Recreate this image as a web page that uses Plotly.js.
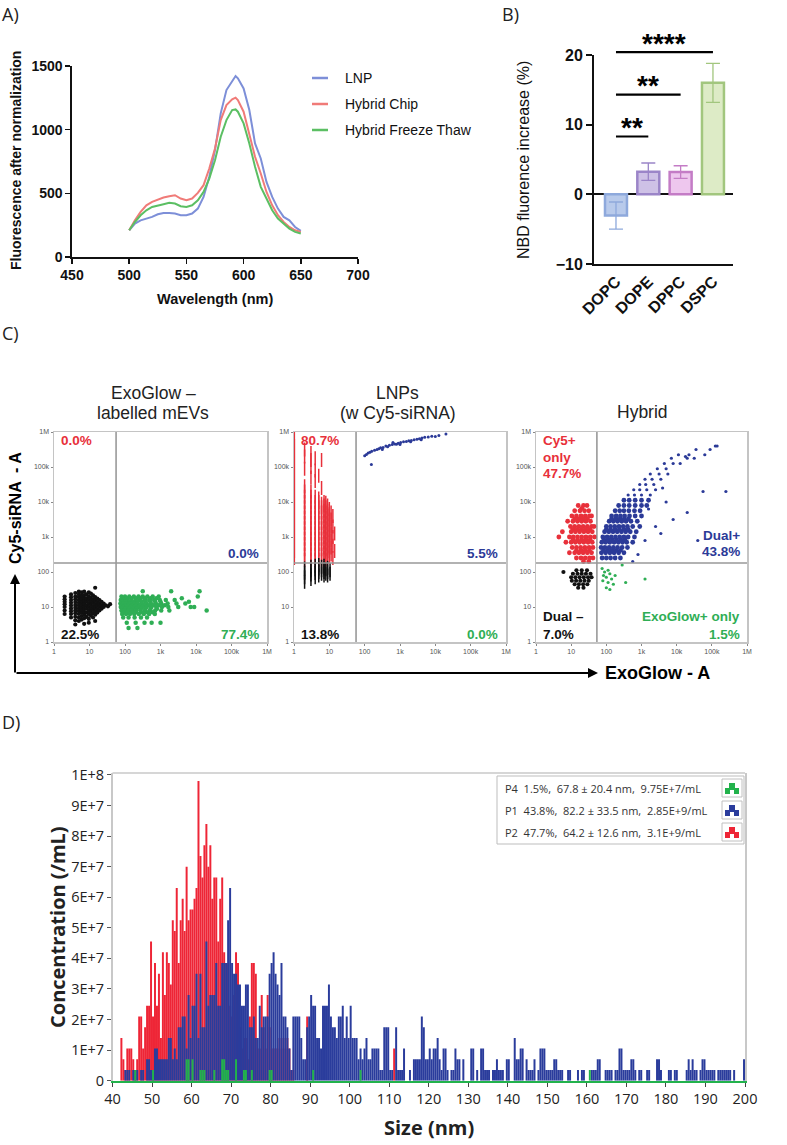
<!DOCTYPE html>
<html><head><meta charset="utf-8">
<script src="https://cdn.plot.ly/plotly-3.0.1.min.js"></script>
<style>html,body{margin:0;padding:0;background:#fff}#chart{width:787px;height:1145px}</style>
</head><body><div id="chart"></div>
<script>
// ---------------- DATA ----------------
// Panel A: emission spectra
const wavelength = [500,505,510,515,520,525,530,535,540,545,550,555,560,565,570,575,580,585,590,593,595,600,605,610,615,620,625,630,635,640,645,650];
const lnpFluo = [210,262,288,302,315,336,346,346,341,328,328,341,380,472,630,840,1128,1311,1377,1421,1403,1324,1154,892,774,590,472,380,315,288,236,205];
const chipFluo = [210,288,354,406,433,451,467,477,485,459,446,459,503,564,695,852,1075,1193,1238,1251,1233,1141,970,787,656,511,406,328,275,236,210,197];
const freezeFluo = [210,275,328,367,393,406,414,425,420,399,393,406,446,511,616,760,944,1075,1154,1159,1141,1049,892,708,551,459,367,302,262,223,197,184];
const spectraNames = ['LNP','Hybrid Chip','Hybrid Freeze Thaw'];
const spectraColors = ['#7d8fd8','#f07b78','#5bbf63'];
const waveTicks = [450,500,550,600,650,700];
const fluoTicks = [0,500,1000,1500];

// Panel B: NBD fluorescence increase
const lipids = ['DOPC','DOPE','DPPC','DSPC'];
const nbdMean = [-3.05, 3.25, 3.2, 16.0];
const nbdSD = [1.95, 1.25, 0.9, 2.8];
const lipidFill = ['rgba(160,184,228,0.75)','rgba(190,172,222,0.75)','rgba(232,180,232,0.75)','rgba(212,230,184,0.8)'];
const lipidEdge = ['#8ea9dc','#9b85c8','#c47cc6','#a2c67e'];
const sigFrom = [0,0,0];
const sigTo = [1,2,3];
const sigY = [8.3,14.3,20.4];
const sigText = ['**','**','****'];
const nbdTicks = [-10,0,10,20];

// Panel C: flow cytometry (log10 ExoGlow-A, log10 Cy5-siRNA-A)
const flowTicks = [1,10,100,1e3,1e4,1e5,1e6];
const flowTickText = ['1','10','100','1k','10k','100k','1M'];
const gateX = [56,57,54];
const gateY = 180;
// columns: [log x, [log y ...]]
const exoBlackCols = [[0.30,[0.80,0.90,1.00,1.08,1.15,1.22,1.30]],[0.48,[0.70,0.80,0.88,0.96,1.04,1.12,1.20,1.28,1.36]],
 [0.60,[0.50,0.62,0.72,0.82,0.90,0.98,1.06,1.14,1.22,1.30,1.40]],[0.70,[0.60,0.70,0.80,0.88,0.96,1.04,1.12,1.20,1.28,1.36,1.44]],
 [0.78,[0.64,0.74,0.84,0.92,1.00,1.08,1.16,1.24,1.32,1.42]],[0.85,[0.52,0.68,0.78,0.86,0.94,1.02,1.10,1.18,1.26,1.34,1.44]],
 [0.92,[0.72,0.84,0.95,1.05,1.15,1.25,1.36]],[0.98,[0.55,0.66,0.80,0.90,1.00,1.10,1.20,1.30,1.42]],
 [1.04,[0.75,0.86,0.96,1.06,1.16,1.26,1.38]],[1.10,[0.70,0.82,0.92,1.02,1.12,1.22,1.33]],
 [1.16,[0.60,0.78,0.88,0.98,1.08,1.18,1.28,1.55]],[1.22,[0.84,0.94,1.04,1.14,1.24]],[1.28,[0.90,1.00,1.10,1.20]],
 [1.34,[0.95,1.05,1.15]],[1.40,[1.00,1.10]],[1.46,[1.05]],[1.52,[1.02]],[1.58,[1.08]]];
// rows: [log y, [log x ...]]
const exoGreenRows = [[1.45,[2.50,3.30,4.10]],[1.30,[1.90,2.00,2.12,2.25,2.38,2.50,2.63,2.78,2.95,4.05]],[1.25,[1.93,2.05,2.18,2.31,2.44,2.57,2.72,2.88,3.60]],
 [1.20,[1.88,1.97,2.07,2.18,2.30,2.42,2.55,2.68,2.82,2.98,3.15,3.40]],[1.15,[1.91,2.01,2.12,2.23,2.34,2.46,2.58,2.71,2.85,3.00,3.80]],
 [1.10,[1.87,1.95,2.04,2.14,2.25,2.36,2.48,2.60,2.73,2.87,3.02,3.20,3.45,3.70]],[1.05,[1.91,2.00,2.10,2.20,2.31,2.42,2.54,2.67,2.80,2.95,3.12]],
 [1.00,[1.88,1.96,2.05,2.15,2.26,2.37,2.49,2.61,2.74,2.88,3.04,3.22,3.50,3.85,3.95]],[0.95,[1.92,2.01,2.11,2.22,2.33,2.45,2.58,2.72,2.90]],
 [0.90,[1.90,1.99,2.09,2.20,2.31,2.43,2.56,2.70,2.85,3.02,3.25,4.30]],[0.85,[1.94,2.06,2.18,2.31,2.46,2.62,2.78]],
 [0.80,[1.92,2.03,2.14,2.26,2.39,2.53,2.68,2.84]],[0.70,[1.95,2.10,2.27,2.45,2.62]],[0.55,[2.05,2.30,2.55,2.75,3.00]],[0.40,[2.10,2.35]]];
const lnpRedCols = [[0.01,[2.4,2.6,2.8,3.0,3.2,3.4,3.6,3.8,4.0,4.2,4.4,4.6,4.8,5.0,5.2,5.4,5.6,5.8]],
 [0.30,[2.35,2.5,2.65,2.8,2.95,3.1,3.25,3.4,3.55,3.7,3.85,4.0,4.15,4.3,4.45,4.95,5.3,5.5]],
 [0.48,[2.35,2.5,2.65,2.8,2.95,3.1,3.25,3.4,3.55,3.7,3.85,4.0,4.15,4.3,4.7,5.0,5.2,5.4]],
 [0.60,[2.35,2.5,2.65,2.8,2.95,3.1,3.25,3.4,3.55,3.7,3.85,4.0,4.15,4.6,4.9,5.25]],
 [0.70,[2.35,2.5,2.65,2.8,2.95,3.1,3.25,3.4,3.55,3.7,3.85,4.0,4.1,4.75]],
 [0.78,[2.35,2.5,2.65,2.8,2.95,3.1,3.25,3.4,3.55,3.7,3.85,3.95,4.4,5.2]],
 [0.85,[2.4,2.55,2.7,2.85,3.0,3.15,3.3,3.45,3.6,3.75,3.9,4.0]],
 [0.90,[2.35,2.5,2.65,2.8,2.95,3.1,3.25,3.4,3.55,3.7,3.85,3.98]],
 [0.95,[2.4,2.55,2.7,2.85,3.0,3.15,3.3,3.45,3.6,3.75,3.9]],
 [1.00,[2.45,2.6,2.75,2.9,3.05,3.2,3.35,3.5,3.65,3.8]],
 [1.05,[2.5,2.7,2.9,3.1,3.3,3.5,3.7]],[1.10,[2.4,2.75,3.0,3.3,3.6]],[1.15,[2.6,3.1]]];
const lnpBlackCols = [[0.30,[1.72,1.85,1.98,2.10]],[0.48,[1.80,1.93,2.05,2.15]],[0.60,[1.85,1.97,2.08,2.18]],[0.70,[1.90,2.00,2.10,2.20]],
 [0.78,[1.95,2.05,2.15]],[0.85,[1.90,2.00,2.10,2.18]],[0.90,[1.95,2.08]],[0.95,[1.90,2.00,2.12]],[1.02,[1.95,2.05]]];
const lnpBluePts = [[2.00,5.32],[2.05,5.36],[2.10,5.40],[2.15,5.42],[2.20,5.45],[2.28,5.48],[2.35,5.50],[2.40,5.52],[2.45,5.55],[2.50,5.50],
 [2.52,5.56],[2.60,5.60],[2.65,5.58],[2.70,5.62],[2.78,5.64],[2.80,5.70],[2.85,5.66],[2.90,5.65],[2.95,5.68],[3.00,5.64],[3.02,5.70],
 [3.10,5.72],[3.18,5.73],[3.25,5.75],[3.30,5.72],[3.32,5.76],[3.40,5.78],[3.48,5.79],[3.55,5.81],[3.60,5.78],[3.62,5.83],[3.70,5.85],
 [3.80,5.86],[3.90,5.88],[4.00,5.87],[4.10,5.90],[4.30,5.94],[2.19,5.07]];
const hybRedRows = [[3.90,[1.20,1.35,1.45]],[3.82,[1.30]],[3.75,[1.10,1.25,1.38,1.50]],[3.60,[1.02,1.15,1.28,1.40,1.52,1.58]],
 [3.52,[1.10,1.22,1.34,1.46]],[3.45,[0.90,1.05,1.18,1.30,1.42,1.55]],[3.30,[0.98,1.10,1.22,1.34,1.46,1.58,1.65]],
 [3.22,[1.05,1.17,1.29,1.41,1.53]],[3.15,[0.75,1.00,1.12,1.24,1.36,1.48,1.60]],[3.00,[0.65,0.95,1.06,1.18,1.30,1.42,1.54,1.66]],
 [2.92,[1.05,1.18,1.30,1.42,1.54]],[2.85,[0.85,1.00,1.12,1.24,1.36,1.48,1.60]],[2.70,[1.03,1.15,1.27,1.39,1.51,1.62]],
 [2.62,[1.15,1.28,1.40,1.52]],[2.55,[0.95,1.10,1.22,1.34,1.46,1.58]],[2.40,[1.15,1.28,1.40,1.52,1.62]],[2.30,[1.35,1.50]]];
const hybBlueCoreRows = [[2.40,[1.88,2.00,2.12,2.25,2.40]],[2.55,[1.86,1.98,2.10,2.22,2.35,2.50]],[2.62,[1.92,2.04,2.16,2.28,2.40]],
 [2.70,[1.85,1.96,2.08,2.20,2.32,2.45,2.60]],[2.85,[1.87,1.98,2.10,2.22,2.34,2.46,2.58,2.75]],
 [2.92,[1.93,2.05,2.17,2.29,2.41,2.53]],[3.00,[1.90,2.02,2.14,2.26,2.38,2.50,2.62,2.80]],
 [3.15,[1.95,2.07,2.19,2.31,2.43,2.55,2.68,2.85]],[3.22,[2.00,2.12,2.25,2.37,2.50,2.62]],[3.30,[2.00,2.12,2.24,2.36,2.48,2.60,2.75,2.95]],
 [3.45,[2.08,2.20,2.32,2.44,2.56,2.70,2.88]],[3.52,[2.15,2.27,2.39,2.51,2.63]],[3.60,[2.15,2.28,2.40,2.52,2.66,2.82,3.00]],
 [3.75,[2.25,2.38,2.50,2.64,2.80,2.96]],[3.90,[2.35,2.50,2.65,2.82,3.00,3.15]],[4.05,[2.50,2.65,2.82,3.00,3.20]]];
const hybBlueTailRows = [[2.30,[2.75]],[2.50,[2.90]],[2.90,[3.10,4.60]],[3.10,[3.55]],[3.30,[3.40]],[3.50,[3.90]],[3.70,[4.30]],[3.80,[3.20]],[4.00,[3.70]],
 [4.20,[2.62,2.80,3.00,3.25]],[4.30,[4.75,5.40]],[4.35,[2.78,2.95,3.15,3.40]],[4.40,[3.60]],
 [4.50,[2.95,3.12,3.35]],[4.65,[3.10,3.30,3.55]],[4.80,[3.25,3.50,3.75]],[4.95,[3.45,3.70]],[5.10,[3.65,3.90,4.10]],
 [5.25,[3.85,4.30,4.50]],[5.30,[4.25]],[5.35,[4.05,4.35,4.80]],[5.50,[4.55,4.95]],[5.60,[5.10,5.15]]];
const hybBlackRows = [[2.05,[1.15,1.30,1.45]],[2.00,[0.78]],[1.95,[1.05,1.18,1.30,1.42,1.55]],[1.85,[1.00,1.12,1.24,1.36,1.48,1.58]],
 [1.75,[1.02,1.14,1.26,1.38,1.50]],[1.65,[1.10,1.22,1.34,1.46]],[1.55,[1.20,1.35]]];
const hybGreenPts = [[1.88,2.10],[1.95,2.00],[2.05,2.05],[1.92,1.90],[2.00,1.85],[2.10,1.95],[2.15,1.80],[1.90,1.75],[2.05,1.70],
 [2.20,1.65],[2.00,1.55],[2.10,1.50],[2.25,1.90],[2.55,1.70],[3.10,1.80],[2.45,2.20]];

// Panel D: NTA size distribution (counts per 0.5 nm bin; one count = 3.5E+6 /mL)
const binWidth = 0.5;
const particleUnit = 3.5e6;
const p2Start = 42.0;
const p2Counts = [4,2,1,3,3,3,2,1,2,6,6,3,5,7,7,13,6,11,7,10,
 4,12,8,12,11,9,15,14,18,11,15,17,14,20,15,16,16,17,18,28,
 21,19,22,24,20,22,17,19,19,13,17,19,12,11,11,7,6,8,12,11,
 5,3,4,4,2,6,11,11,10,3,3,8,5,3,8,5,3,3,3,3,
 4,3,4,3,4,3,1,1,0,0,0,0,0,0,6,0];
const p2ExtraSize = [111.0];
const p2ExtraCount = [3];
const p1Start = 43.0;
const p1Counts = [1,1,1,0,1,1,1,0,1,1,0,2,2,1,1,3,3,2,2,2,
 2,2,4,4,2,3,2,5,5,6,6,3,8,4,7,7,10,4,10,5,
 5,13,7,8,8,8,11,7,7,11,11,11,15,18,11,10,10,9,9,7,
 7,9,9,5,5,6,4,4,7,5,6,6,6,10,11,12,10,9,8,11,
 6,6,5,3,1,6,6,6,6,4,2,2,5,6,8,7,7,4,4,3,
 7,7,7,9,6,5,5,4,6,6,7,4,6,4,7,4,4,4,2,3,
 2,3,4,2,2,3,3,3,3,1,1,5,5,5,1,1,0,5,1,1,
 1,3,0,0,1,0,2,2,2,2,6,5,2,2,3,2,3,3,4,2,
 1,3,3,1,0,1,1,3,2,2,0,2,0,0,0,3,3,0,1,0,
 3,3,1,1,1,0,1,1,2,1,1,1,0,2,2,0,0,4,2,2,
 3,3,0,2,1,1,1,2,0,1,3,3,3,1,1,1,1,2,2,1,
 1,1,0,0,1,1,0,0,0,1,0,1,1,0,0,0,1,1,1,2,
 2,0,0,1,1,1,1,0,1,1,3,3,1,1,1,1,2,2,1,0,
 1,1,0,0,1,1,0,0,0,2,2,1,0,0,0,1,1,0,1,1,
 0,0,0,0,1,2,1,2,1,1,0,1,2,2,1,1,1,1,1,0,
 1,1,1,1,1,1,1,0,1,0,0,0,0,2];
const p4Size = [45.5,50.0,58.5,59.0,60.0,62.0,62.5,63.0,65.5,67.5,68.0,68.5,69.0,71.0,73.0,73.5,75.0,79.5,80.0,90.5,102.5,160.5];
const p4Count = [1,1,2,2,2,1,1,1,1,2,2,1,1,2,1,1,1,1,1,1,1,1];
const ntaLegend = ['P4\u00a0 1.5%,\u00a0 67.8 \u00b1 20.4 nm,\u00a0 9.75E+7/mL','P1\u00a0 43.8%,\u00a0 82.2 \u00b1 33.5 nm,\u00a0 2.85E+9/mL','P2\u00a0 47.7%,\u00a0 64.2 \u00b1 12.6 nm,\u00a0 3.1E+9/mL'];
const ntaColors = ['#22b24c','#2a3c9c','#ee2536'];
const sizeTicks = [40,50,60,70,80,90,100,110,120,130,140,150,160,170,180,190,200];
const concTicks = [0,1e7,2e7,3e7,4e7,5e7,6e7,7e7,8e7,9e7,1e8];
const concTickText = ['0','1E+7','2E+7','3E+7','4E+7','5E+7','6E+7','7E+7','8E+7','9E+7','1E+8'];

// ---------------- HELPERS ----------------
const W = 787, H = 1145;
const px = v => v / W;
const py = v => 1 - v / H;
const AR = 'Liberation Sans, Arial, sans-serif';
const OS = 'Open Sans, Noto Sans, sans-serif';
function fromCols(cols){ const x=[],y=[]; cols.forEach(c=>c[1].forEach(v=>{x.push(Math.pow(10,c[0]));y.push(Math.pow(10,v));})); return {x,y}; }
function fromRows(rows){ const x=[],y=[]; rows.forEach(r=>r[1].forEach(v=>{x.push(Math.pow(10,v));y.push(Math.pow(10,r[0]));})); return {x,y}; }
function fromPts(pts){ return {x:pts.map(p=>Math.pow(10,p[0])), y:pts.map(p=>Math.pow(10,p[1]))}; }
function txt(text, x, y, font, o){ return Object.assign({xref:'paper',yref:'paper',x:px(x),y:py(y),text:text,showarrow:false,xanchor:'center',yanchor:'middle',font:font}, o||{}); }

// Panel B axis geometry (pixels) and mapping of its data to the page, used for marks above the plot area
const bPxX = [594,733], bRangeX = [-0.68,3.62];
const bPxY = [264,55], bRangeY = [-10,20];
const bX = i => px(bPxX[0] + (i - bRangeX[0]) * (bPxX[1]-bPxX[0]) / (bRangeX[1]-bRangeX[0]));
const bY = v => py(bPxY[0] - (v - bRangeY[0]) * (bPxY[0]-bPxY[1]) / (bRangeY[1]-bRangeY[0]));

const traces = [];
const annotations = [];
const shapes = [];

// ---------------- PANEL A ----------------
[lnpFluo, chipFluo, freezeFluo].forEach((s,i)=>{
  traces.push({type:'scatter',mode:'lines',x:wavelength,y:s,xaxis:'x',yaxis:'y',line:{color:spectraColors[i],width:2},name:spectraNames[i]});
  shapes.push({type:'line',xref:'paper',yref:'paper',x0:px(312),x1:px(328),y0:py(78+26*i),y1:py(78+26*i),line:{color:spectraColors[i],width:2.5}});
  annotations.push(txt(spectraNames[i],343,78+26*i,{family:AR,size:14,color:'#111'},{xanchor:'left'}));
});
annotations.push(txt('A)',0,14,{family:OS,size:18,color:'#222'},{xanchor:'left'}));
annotations.push(txt('<b>Fluorescence after normalization</b>',16,161,{family:AR,size:14,color:'#111'},{textangle:-90}));
annotations.push(txt('<b>Wavelength (nm)</b>',215,299,{family:AR,size:14.5,color:'#111'}));

// ---------------- PANEL B ----------------
lipids.forEach((l,i)=>{
  traces.push({type:'bar',x:[l],y:[nbdMean[i]],xaxis:'x2',yaxis:'y2',width:0.68,
    marker:{color:lipidFill[i],line:{color:lipidEdge[i],width:2.5}},
    error_y:{type:'data',array:[nbdSD[i]],visible:true,color:lipidEdge[i],thickness:1.3,width:7}});
});
sigFrom.forEach((f,i)=>{
  shapes.push({type:'line',xref:'paper',yref:'paper',x0:bX(f),x1:bX(sigTo[i]),y0:bY(sigY[i]),y1:bY(sigY[i]),line:{color:'#000',width:2.2}});
  annotations.push({xref:'paper',yref:'paper',x:bX((f+sigTo[i])/2),y:bY(sigY[i]),yshift:9,text:'<b>'+sigText[i]+'</b>',showarrow:false,xanchor:'center',yanchor:'middle',font:{family:AR,size:28,color:'#000'}});
});
annotations.push(txt('B)',500,14,{family:OS,size:18,color:'#222'},{xanchor:'left'}));
annotations.push(txt('NBD fluorence increase (%)',523,160,{family:AR,size:16,color:'#111'},{textangle:-90}));

// ---------------- PANEL C ----------------
const dot = (c,s)=>({color:c,size:s||3,line:{width:0}});
const stripe = c=>({symbol:'line-ns',size:10,line:{color:c,width:1.5}});
const red='#e8303a', blue='#2b3a98', green='#2fae55', black='#111111';
function addSc(d, ax, marker){ traces.push({type:'scatter',mode:'markers',x:d.x,y:d.y,xaxis:'x'+ax,yaxis:'y'+ax,marker:marker,hoverinfo:'skip'}); }
addSc(fromCols(exoBlackCols),3,dot(black,4.2));
addSc(fromRows(exoGreenRows),3,dot(green,4.5));
addSc(fromCols(lnpRedCols),4,stripe(red));
addSc(fromCols(lnpBlackCols),4,stripe(black));
addSc(fromPts(lnpBluePts),4,dot(blue,3));
addSc(fromRows(hybRedRows),5,dot(red,4.8));
addSc(fromRows(hybBlueCoreRows),5,dot(blue,4.8));
addSc(fromRows(hybBlueTailRows),5,dot(blue,3.2));
addSc(fromRows(hybBlackRows),5,dot(black,4.2));
addSc(fromPts(hybGreenPts),5,dot(green,3.2));
gateX.forEach((g,i)=>{
  const ax = 3+i;
  shapes.push({type:'line',xref:'x'+ax,yref:'y'+ax,x0:g,x1:g,y0:1,y1:1e6,line:{color:'#777',width:1.2}});
  shapes.push({type:'line',xref:'x'+ax,yref:'y'+ax,x0:1,x1:1e6,y0:gateY,y1:gateY,line:{color:'#999',width:1.5}});
});
annotations.push(txt('C)',0,333,{family:OS,size:18,color:'#222'},{xanchor:'left'}));
const cTitle = {family:AR,size:17.5,color:'#222'};
annotations.push(txt('ExoGlow \u2013',153,393,cTitle));
annotations.push(txt('labelled mEVs',153,413,cTitle));
annotations.push(txt('LNPs',398,393,cTitle));
annotations.push(txt('(w Cy5-siRNA)',398,413,cTitle));
annotations.push(txt('Hybrid',642,412,cTitle));
const q = c=>({family:AR,size:13.5,color:c});
annotations.push(txt('<b>0.0%</b>',59,440,q(red),{xanchor:'left'}));
annotations.push(txt('<b>0.0%</b>',261,553,q(blue),{xanchor:'right'}));
annotations.push(txt('<b>22.5%</b>',59,634,q(black),{xanchor:'left'}));
annotations.push(txt('<b>77.4%</b>',261,634,q(green),{xanchor:'right'}));
annotations.push(txt('<b>80.7%</b>',299,440,q(red),{xanchor:'left'}));
annotations.push(txt('<b>5.5%</b>',500,553,q(blue),{xanchor:'right'}));
annotations.push(txt('<b>13.8%</b>',299,634,q(black),{xanchor:'left'}));
annotations.push(txt('<b>0.0%</b>',500,634,q(green),{xanchor:'right'}));
annotations.push(txt('<b>Cy5+</b>',541,440,q(red),{xanchor:'left'}));
annotations.push(txt('<b>only</b>',541,457,q(red),{xanchor:'left'}));
annotations.push(txt('<b>47.7%</b>',541,473,q(red),{xanchor:'left'}));
annotations.push(txt('<b>Dual+</b>',742,536,q(blue),{xanchor:'right'}));
annotations.push(txt('<b>43.8%</b>',742,552,q(blue),{xanchor:'right'}));
annotations.push(txt('<b>Dual \u2013</b>',541,617,q(black),{xanchor:'left'}));
annotations.push(txt('<b>7.0%</b>',541,634,q(black),{xanchor:'left'}));
annotations.push(txt('<b>ExoGlow+ only</b>',742,616,q(green),{xanchor:'right'}));
annotations.push(txt('<b>1.5%</b>',742,634,q(green),{xanchor:'right'}));
annotations.push(txt('<b>Cy5-siRNA \u00a0- A</b>',15,508,{family:AR,size:16,color:'#000'},{textangle:-90}));
annotations.push(txt('<b>ExoGlow - A</b>',657,673,{family:AR,size:18,color:'#000'}));
annotations.push({xref:'paper',yref:'paper',x:px(598),y:py(673),ax:-583,ay:0,text:'',showarrow:true,arrowhead:2,arrowsize:1,arrowwidth:2,arrowcolor:'#000'});
annotations.push({xref:'paper',yref:'paper',x:px(15),y:py(574),ax:0,ay:100,text:'',showarrow:true,arrowhead:2,arrowsize:1,arrowwidth:2,arrowcolor:'#000'});

// ---------------- PANEL D ----------------
function bars(start, counts, extraSize, extraCount, color){
  const x = counts.map((c,i)=>start + i*binWidth + binWidth/2).concat(extraSize.map(s=>s+binWidth/2));
  const y = counts.concat(extraCount).map(c=>c*particleUnit);
  traces.push({type:'bar',x:x,y:y,width:binWidth,xaxis:'x6',yaxis:'y6',marker:{color:color,line:{width:0}},hoverinfo:'skip'});
}
bars(p2Start, p2Counts, p2ExtraSize, p2ExtraCount, ntaColors[2]);
bars(p1Start, p1Counts, [], [], ntaColors[1]);
traces.push({type:'bar',x:p4Size.map(s=>s+binWidth/2),y:p4Count.map(c=>c*particleUnit),width:binWidth,xaxis:'x6',yaxis:'y6',marker:{color:ntaColors[0],line:{width:0}},hoverinfo:'skip'});
annotations.push(txt('D)',0,722,{family:OS,size:18,color:'#222'},{xanchor:'left'}));
annotations.push(txt('<b>Concentration (/mL)</b>',57,927,{family:OS,size:20,color:'#222'},{textangle:-90}));
annotations.push(txt('<b>Size (nm)</b>',429,1127,{family:OS,size:20,color:'#222'}));
shapes.push({type:'line',xref:'paper',yref:'paper',x0:px(112.5),x1:px(745),y0:py(773),y1:py(773),line:{color:'#c8c8c8',width:1.5}});
shapes.push({type:'rect',xref:'paper',yref:'paper',x0:px(497),x1:px(744),y0:py(844),y1:py(776),fillcolor:'#fff',line:{color:'#bdbdbd',width:1}});
ntaLegend.forEach((t,i)=>{
  const yc = 788 + 22*i;
  annotations.push(txt(t,503,yc,{family:OS,size:11,color:'#333'},{xanchor:'left'}));
  const x0 = 722, y0 = yc - 9;
  shapes.push({type:'rect',xref:'paper',yref:'paper',x0:px(x0),x1:px(x0+20),y0:py(y0+18),y1:py(y0),fillcolor:'#fff',line:{color:'#c0c0c0',width:1}});
  const pts = [[3,15],[3,9],[7,9],[7,4],[13,4],[13,9],[17,9],[17,15],[12,15],[12,11],[8,11],[8,15]];
  const path = pts.map((p,k)=>(k?'L':'M')+px(x0+p[0])+','+py(y0+p[1])).join(' ')+' Z';
  shapes.push({type:'path',xref:'paper',yref:'paper',path:path,fillcolor:ntaColors[i],line:{width:0}});
});

// ---------------- LAYOUT ----------------
const cAx = (dom, anchor)=>({type:'log',range:[0,6],domain:dom,anchor:anchor,tickvals:flowTicks,ticktext:flowTickText,ticks:'outside',ticklen:2,tickcolor:'#888',
  tickfont:{family:AR,size:7,color:'#555'},showline:true,mirror:true,linecolor:'#c4c4c4',linewidth:1.5,showgrid:false,zeroline:false,fixedrange:true});
const cY = [py(642),py(432)];
const layout = {
  width:W,height:H,margin:{l:0,r:0,t:0,b:0},paper_bgcolor:'#fff',plot_bgcolor:'rgba(0,0,0,0)',
  showlegend:false,barmode:'overlay',font:{family:AR,color:'#000'},
  xaxis:{domain:[px(72),px(358)],range:[450,700],anchor:'y',tickvals:waveTicks,ticks:'outside',ticklen:5,tickwidth:1.6,tickcolor:'#111',
    showline:true,linewidth:1.6,linecolor:'#111',showgrid:false,zeroline:false,tickfont:{family:AR,size:14,weight:700,color:'#111'}},
  yaxis:{domain:[py(257),py(66)],range:[0,1500],anchor:'x',tickvals:fluoTicks,ticks:'outside',ticklen:5,tickwidth:1.6,tickcolor:'#111',
    showline:true,linewidth:1.6,linecolor:'#111',showgrid:false,zeroline:false,tickfont:{family:AR,size:14,weight:700,color:'#111'}},
  xaxis2:{domain:[px(bPxX[0]),px(bPxX[1])],type:'category',range:bRangeX,anchor:'y2',categoryorder:'array',categoryarray:lipids,ticks:'',tickangle:-45,
    showline:true,linewidth:2,linecolor:'#111',showgrid:false,zeroline:false,tickfont:{family:AR,size:16,weight:700,color:'#111'}},
  yaxis2:{domain:[py(bPxY[0]),py(bPxY[1])],range:bRangeY,anchor:'x2',tickvals:nbdTicks,ticks:'outside',ticklen:6,tickwidth:2,tickcolor:'#111',
    showline:true,linewidth:2,linecolor:'#111',showgrid:false,zeroline:true,zerolinewidth:2,zerolinecolor:'#111',tickfont:{family:AR,size:16,weight:700,color:'#111'}},
  xaxis3:cAx([px(54),px(267)],'y3'), yaxis3:cAx(cY,'x3'),
  xaxis4:cAx([px(294),px(506)],'y4'), yaxis4:cAx(cY,'x4'),
  xaxis5:cAx([px(536),px(747)],'y5'), yaxis5:cAx(cY,'x5'),
  xaxis6:{domain:[px(112.5),px(745)],range:[40,200],anchor:'y6',tickvals:sizeTicks,ticks:'outside',ticklen:4,tickcolor:'#444',
    showline:true,linecolor:'#22b24c',linewidth:2,showgrid:false,zeroline:false,tickfont:{family:OS,size:14.5,color:'#222'}},
  yaxis6:{domain:[py(1080.7),py(773)],range:[0,1.0065e8],anchor:'x6',tickvals:concTicks,ticktext:concTickText,ticks:'outside',ticklen:4,tickcolor:'#555',
    showline:true,mirror:true,linecolor:'#c8c8c8',linewidth:1.5,showgrid:false,zeroline:false,tickfont:{family:OS,size:14.5,color:'#222'}},
  annotations:annotations, shapes:shapes
};
Plotly.newPlot('chart', traces, layout, {displayModeBar:false, staticPlot:true});
</script></body></html>
